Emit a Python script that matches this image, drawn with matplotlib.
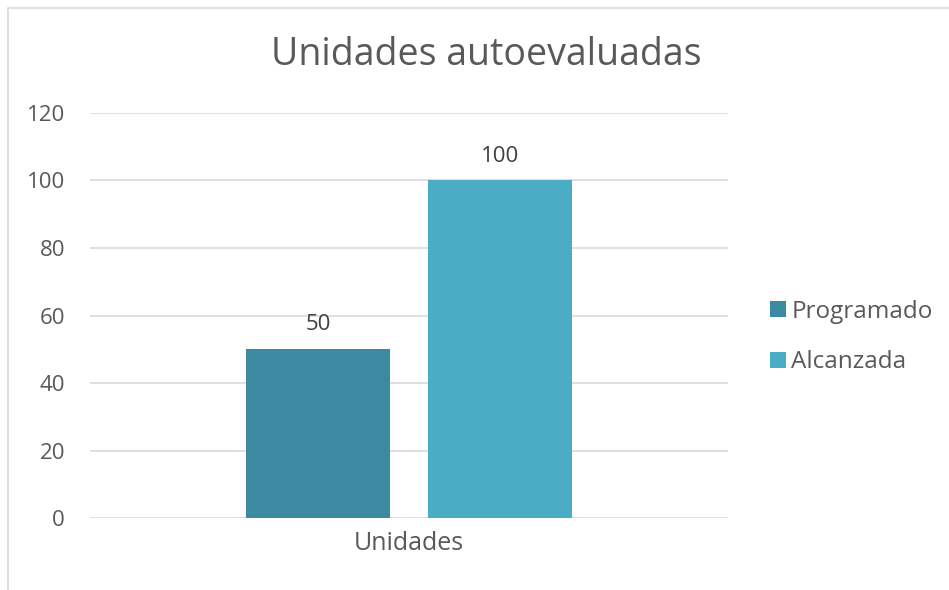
import numpy as np
import matplotlib

matplotlib.use('Agg')

from matplotlib import rcParams

rcParams['font.family'] = 'Open Sans'

import matplotlib.pyplot as plt
from matplotlib.patches import Rectangle

# data
categories = ['Unidades']
series = ['Programado', 'Alcanzada']
values = [[50], [100]]
colors = ['#3C8AA2', '#4BACC6']
title = 'Unidades autoevaluadas'
yticks = [0, 20, 40, 60, 80, 100, 120]

text_color = '#595959'
grid_color = '#D9D9D9'

fig = plt.figure(figsize=(9.49, 5.90), dpi=100)
ax = fig.add_axes([0.0948, 0.122, 0.767 - 0.0948, 0.8085 - 0.122])

indexes = np.arange(len(categories))
bar_width = 0.2257
offset = 0.1426

for i, name in enumerate(series):
    pos = indexes + (i - 0.5) * 2 * offset
    bars = ax.bar(pos, values[i], bar_width, color=colors[i], label=name, zorder=3)
    for b, v in zip(bars, values[i]):
        ax.annotate(str(v), (b.get_x() + b.get_width() / 2, v),
                    xytext=(0, 10), textcoords='offset points',
                    ha='center', va='bottom', fontsize=16, color='#404040')

ax.set_xlim(-0.5, 0.5)
ax.set_ylim(0, 120)
ax.set_yticks(yticks)
ax.set_xticks(indexes)
ax.set_xticklabels(categories)
ax.yaxis.grid(True, color=grid_color, linewidth=1.2, zorder=0)
ax.set_axisbelow(True)
for s in ax.spines.values():
    s.set_visible(False)
ax.tick_params(axis='both', length=0, labelsize=16, colors=text_color)
ax.tick_params(axis='y', pad=18)
ax.tick_params(axis='x', pad=9, labelsize=18)

fig.text(486.5 / 949, 1 - 65 / 590, title, ha='center', va='baseline',
         fontsize=27, color=text_color)

legend = ax.legend(loc='center left', bbox_to_anchor=(1.0, 0.447), frameon=False,
                   handlelength=0.66, handleheight=0.66, handletextpad=0.2,
                   labelspacing=1.1, fontsize=17.5, borderaxespad=1.35)
for t in legend.get_texts():
    t.set_color(text_color)

# chart border (cropped at right and bottom)
fig.patches.append(Rectangle((8 / 949, -0.5), 2, 1.5 - 8 / 590, transform=fig.transFigure,
                             fill=False, edgecolor=grid_color, linewidth=1.2))

plt.savefig('out.png', dpi=100)
